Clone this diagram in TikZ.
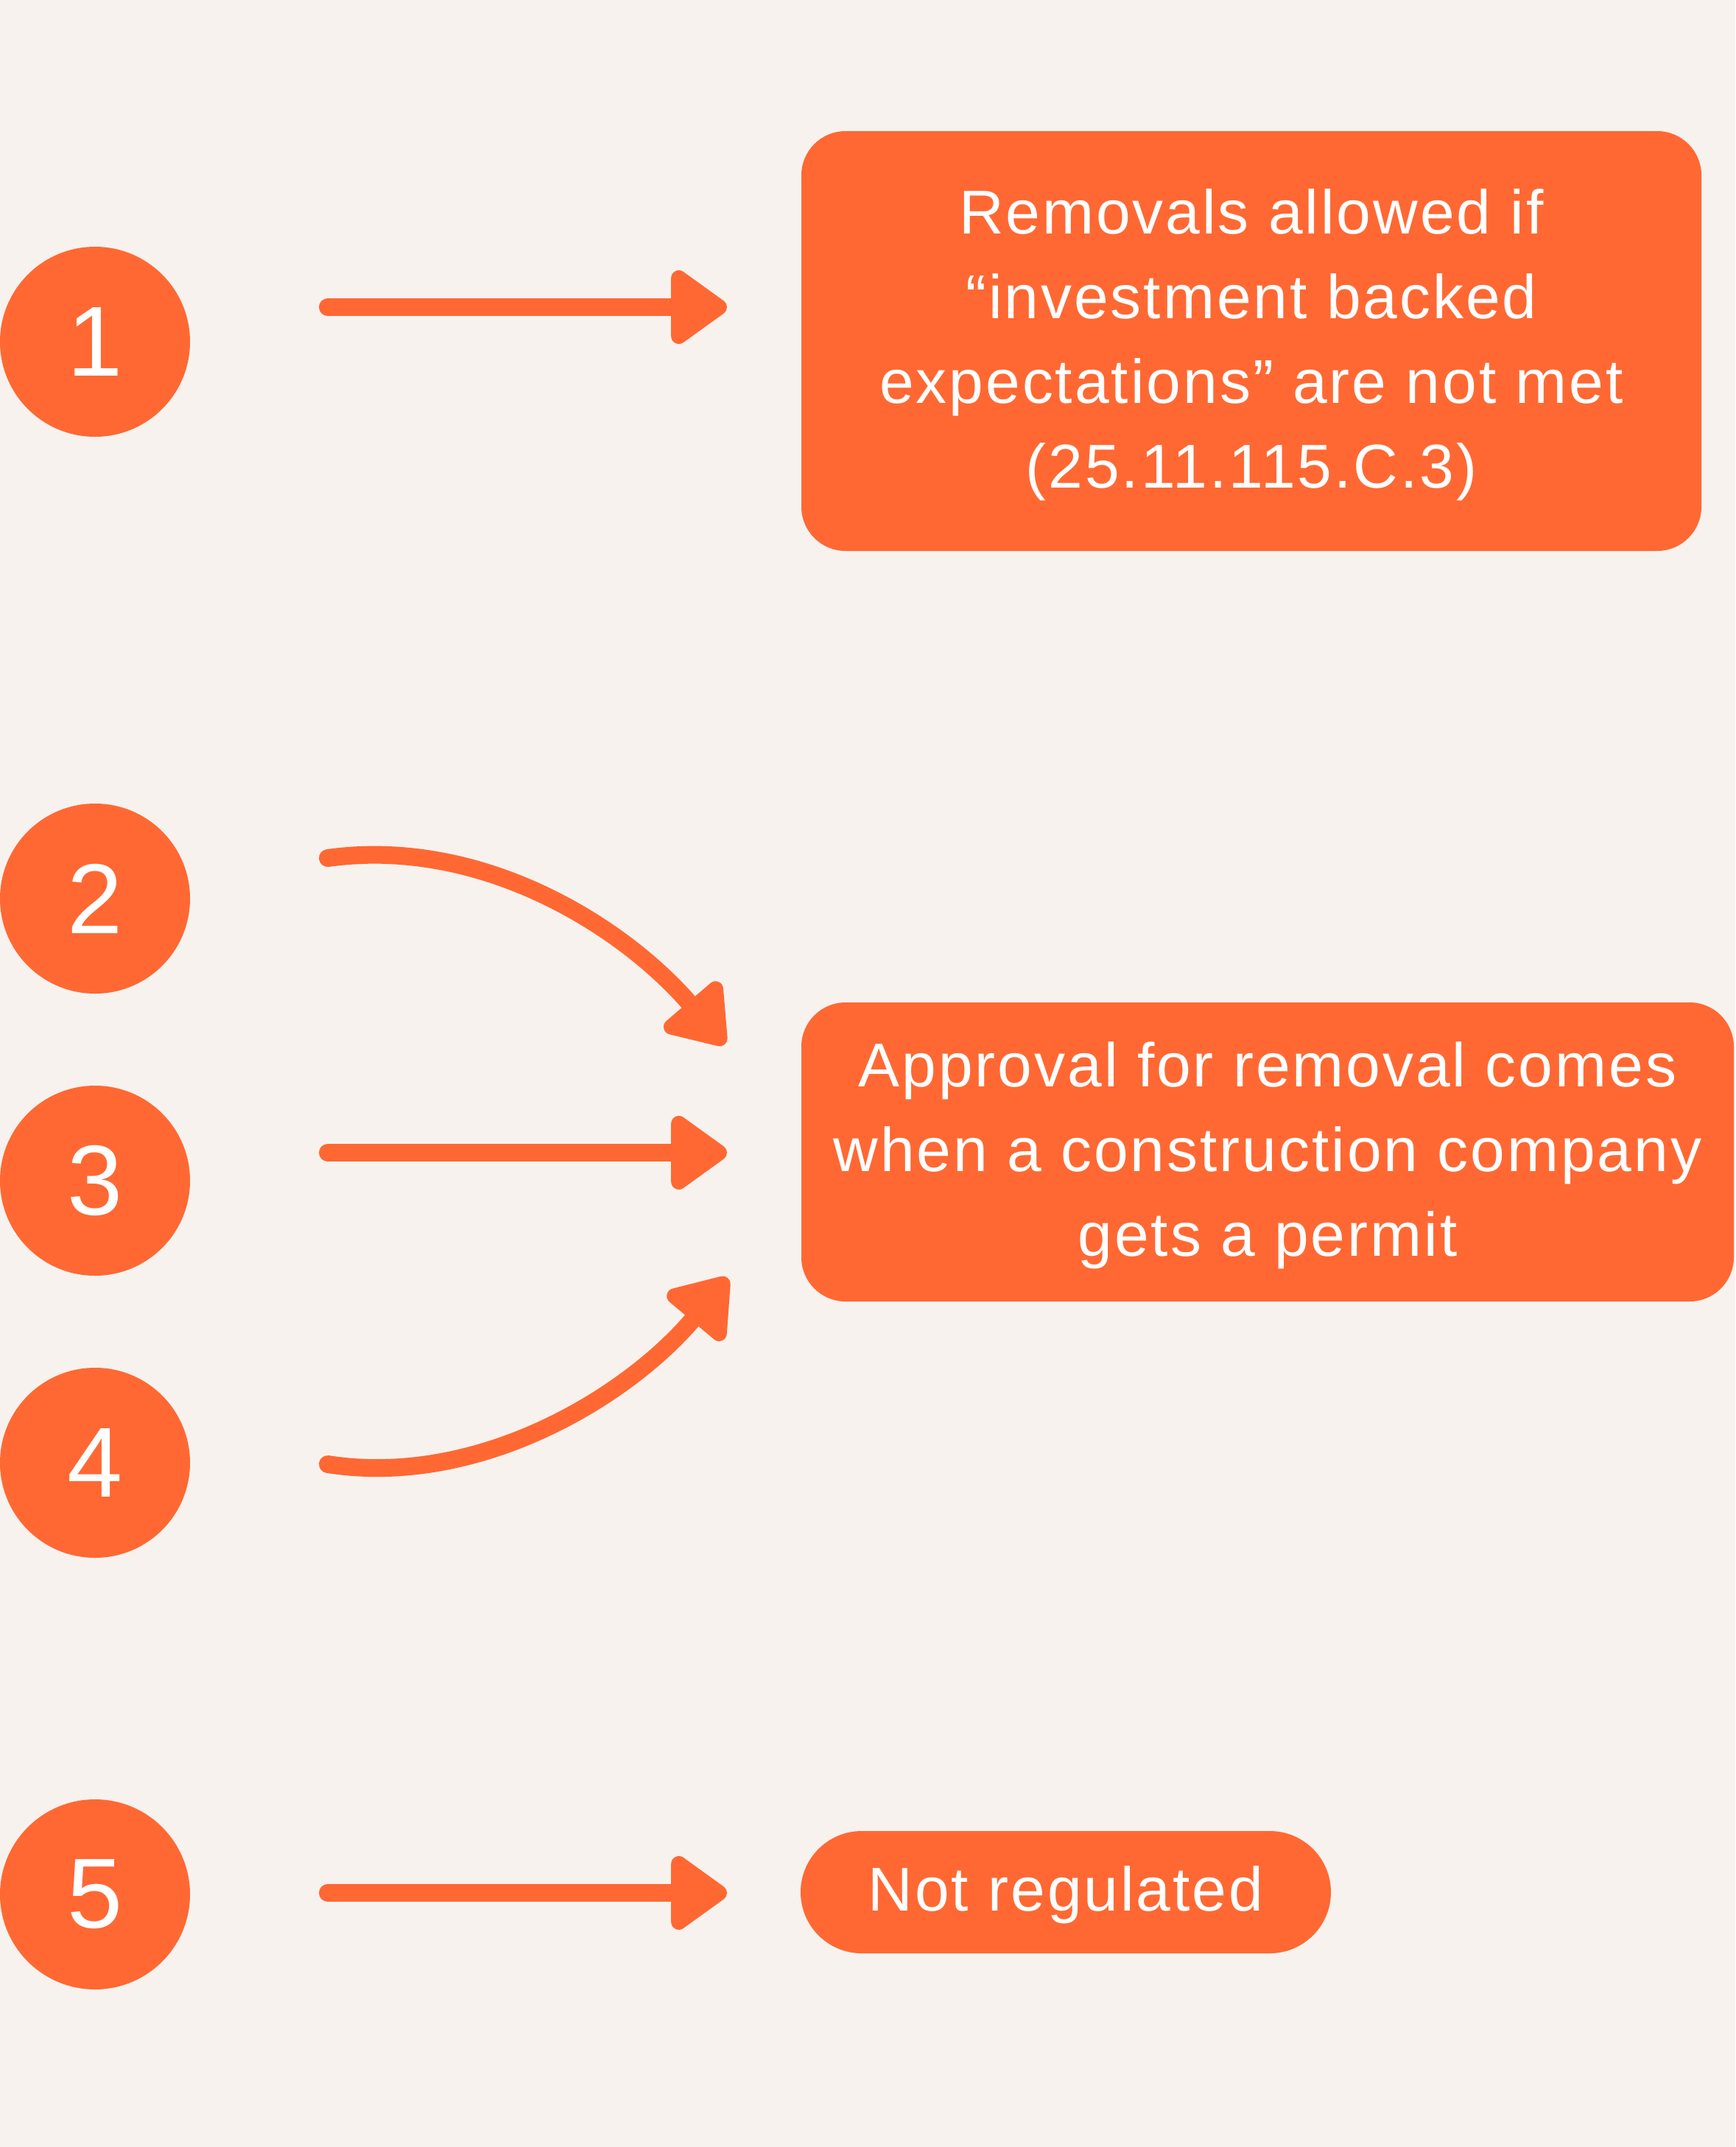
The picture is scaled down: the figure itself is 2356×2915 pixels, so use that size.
\documentclass[tikz,border=0pt]{standalone}
\usepackage{fontspec}
\setmainfont{Liberation Sans}[LetterSpace=3.5]
\usetikzlibrary{arrows.meta}
\definecolor{bgc}{HTML}{F8F2EE}
\definecolor{org}{HTML}{FF6833}
\begin{document}
\begin{tikzpicture}[x=1pt,y=-1pt,
  num/.style={circle, fill=org, minimum size=258pt, inner sep=0pt, text=white, font=\fontsize{135}{135}\selectfont},
  box/.style={fill=org, rounded corners=60pt, inner sep=0pt},
  boxtext/.style={text=white, align=center, inner sep=0pt, font=\fontsize{84}{115}\selectfont},
  arr/.style={draw=org, line width=24pt, line cap=round, -{Triangle[length=84pt,width=114pt,round]}}]
\fill[bgc] (0,0) rectangle (2356,2915);
\useasboundingbox (0,0) rectangle (2356,2915);
% number circles
\node[num] (c1) at (129,464) {1};
\node[num] (c2) at (129,1220) {2};
\node[num] (c3) at (129,1603) {3};
\node[num] (c4) at (129,1986) {4};
\node[num] (c5) at (129,2572) {5};
% boxes
\node[box, minimum width=1222pt, minimum height=570pt] (b1) at (1699,463) {};
\node[boxtext] (t1) at ([yshift=-5pt]b1.center)
  {Removals allowed if\\“investment backed\\expectations” are not met\\(25.11.115.C.3)};
\node[box, minimum width=1266pt, minimum height=406pt] (b2) at (1721,1564) {};
\node[boxtext] (t2) at ([yshift=-5pt]b2.center)
  {Approval for removal comes\\when a construction company\\gets a permit};
\node[box, rounded corners=83pt, minimum width=720pt, minimum height=166pt] (b3) at (1447,2569) {};
\node[boxtext] (t3) at ([yshift=-4pt]b3.center) {Not regulated};
% connector end points
\coordinate (s1) at (445,417);  \coordinate (e1) at (987,417);
\coordinate (s2) at (445,1165); \coordinate (e2) at (984,1418);
\coordinate (s3) at (445,1565); \coordinate (e3) at (987,1565);
\coordinate (s4) at (445,1988); \coordinate (e4) at (988,1735);
\coordinate (s5) at (445,2570); \coordinate (e5) at (987,2570);
% connectors
\draw[arr] (s1) -- (e1);
\draw[arr] (s2) .. controls (653,1136) and (846,1257) .. (e2);
\draw[arr] (s3) -- (e3);
\draw[arr] (s4) .. controls (650,2020) and (853,1896) .. (e4);
\draw[arr] (s5) -- (e5);
\end{tikzpicture}
\end{document}
